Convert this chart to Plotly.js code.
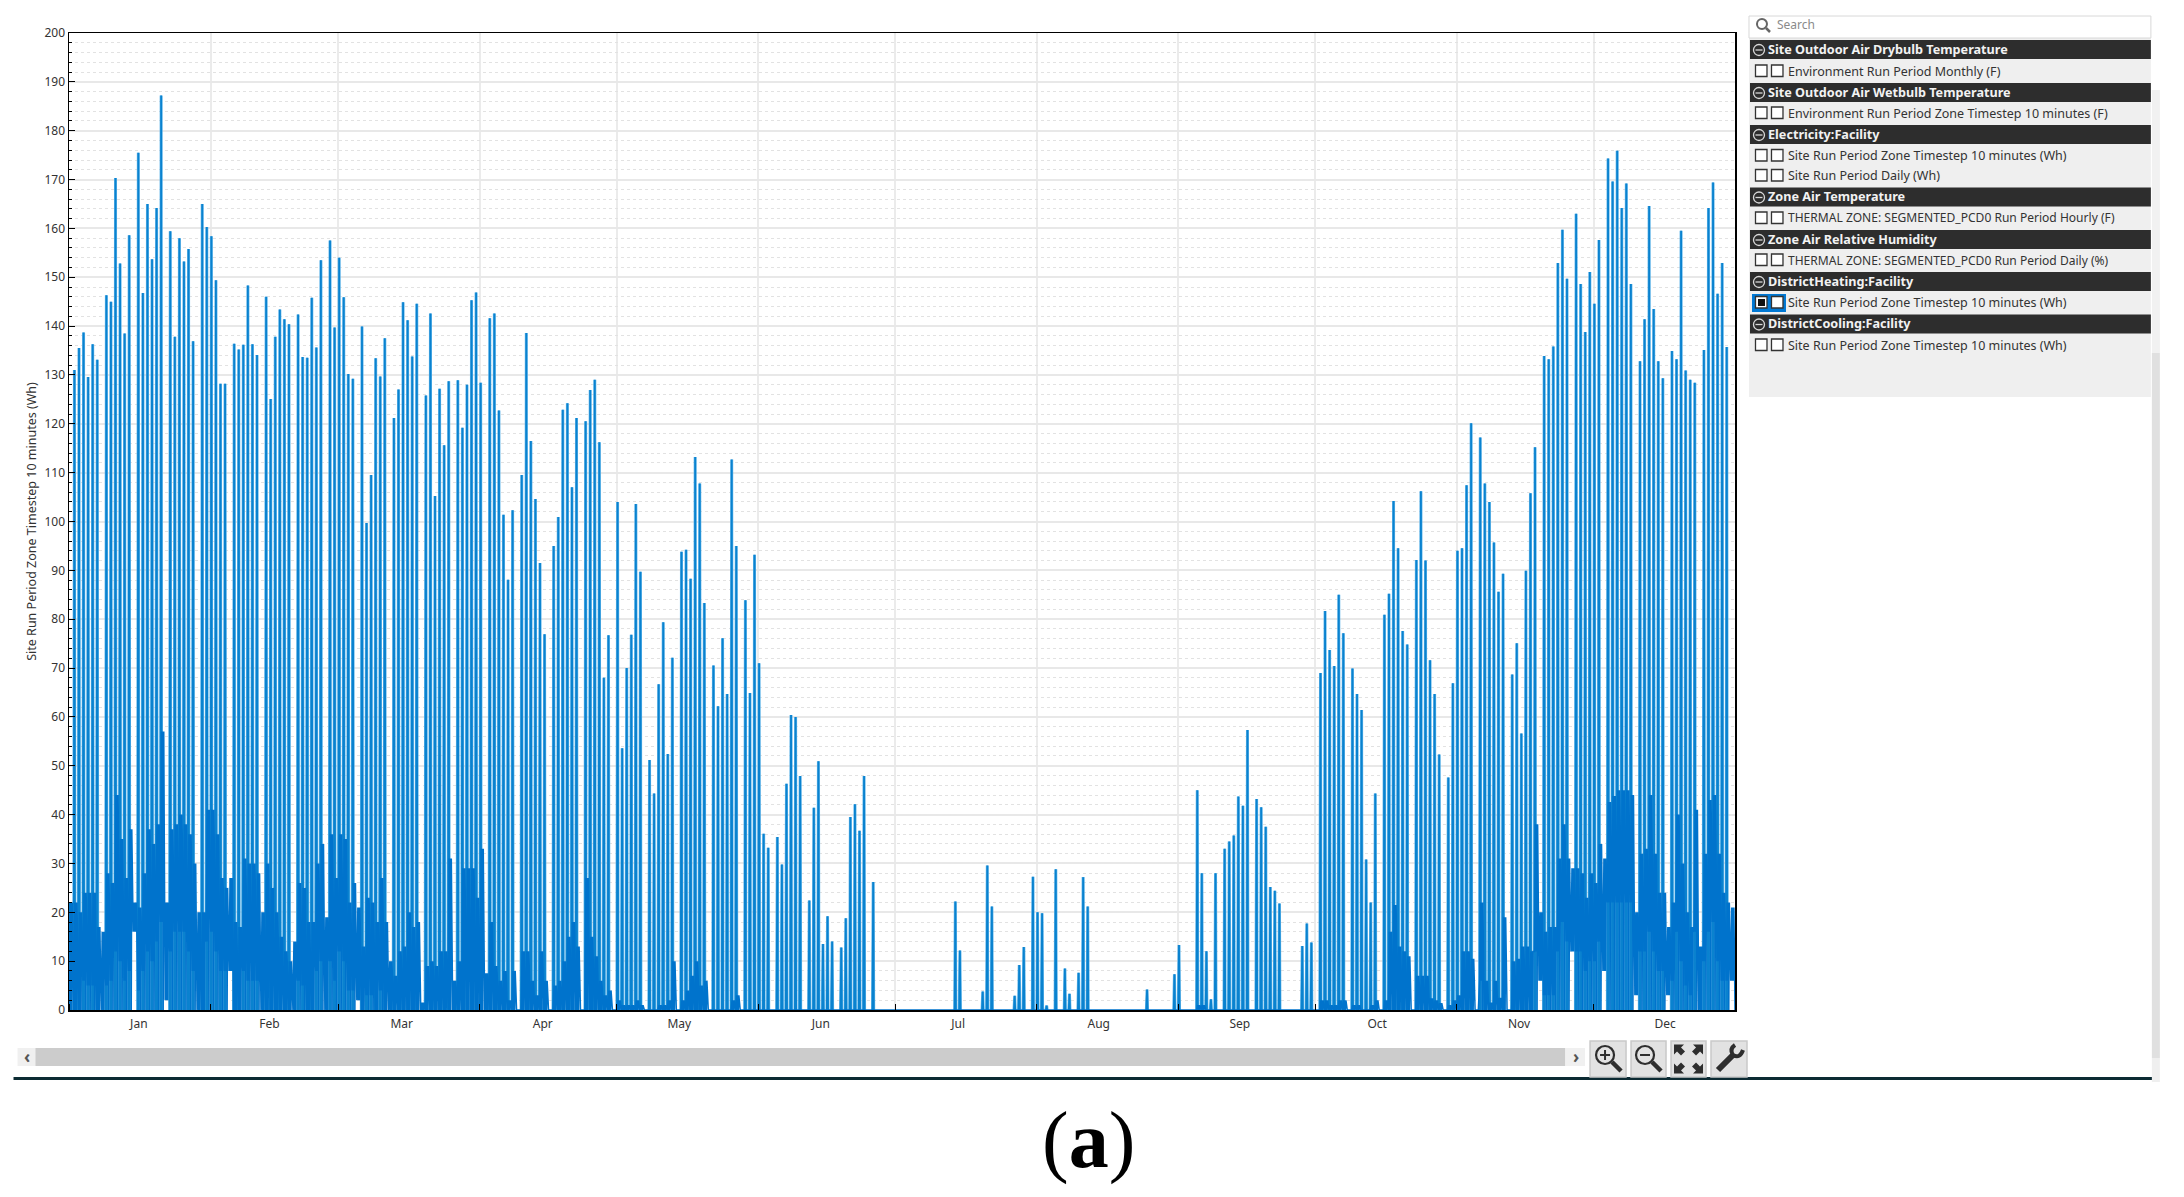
<!DOCTYPE html>
<html>
<head>
<meta charset="utf-8">
<script src="https://cdn.plot.ly/plotly-3.0.1.min.js"></script>
<style>html,body{margin:0;padding:0;background:#fff}#chart{width:2184px;height:1197px}</style>
</head>
<body>
<div id="chart"></div>
<script>
// Daily maximum of the 10-minute series (Wh), read per day of the year (0 = no morning spike)
const dailyPeak = [
22,131,135.5,138.7,129.6,136.3,133.1,
0,146.3,145,170.3,152.8,138.5,158.6,
0,175.5,146.8,165,153.7,164.2,187.2,
0,159.4,137.8,158,153.2,155.8,136.9,
0,165,160.3,158.4,149.4,128.2,128.2,
0,136.4,135.2,136.2,148.3,136.3,134.1,
0,146,125.1,137.8,143.4,141.4,140.4,
0,142.4,133.7,133.5,145.8,135.6,153.5,
0,157.5,139.7,154,145.9,130.2,129.2,
0,139.9,99.7,109.5,133.4,129.7,137.5,
0,121.2,127,144.9,141.2,133.8,144.6,
0,125.8,142.6,105.2,127.2,115.6,128.7,
0,128.9,119.2,128,145.3,146.9,128.4,
0,141.6,142.6,122.7,101.4,88.1,102.3,
0,109.5,138.6,116.5,104.6,91.5,76.9,
0,95,100.9,122.9,124.2,107,121.2,
0,120.5,126.9,129,116.2,68,76.7,
0,104,53.6,70,76.8,103.6,89.7,
0,51.2,44.3,66.7,79.4,52.4,72.1,
0,93.8,94.2,88.3,113.2,107.8,83.3,
0,70.5,62.2,76.1,64.7,112.7,95,
0,83.9,64.9,93.2,71,36.1,33.2,
0,35.4,29.8,46.3,60.4,60,47.9,
0,22.4,41.4,50.9,13.5,19.2,14,
0,12.8,18.8,39.5,42.1,36.7,47.9,
0,26.2,0,0,0,0,0,
0,0,0,0,0,0,0,
0,0,0,0,0,22.2,12.2,
0,0,0,0,3.8,29.6,21.2,
0,0,0,0,2.9,9.2,12.9,
0,27.3,20,19.8,0.9,0,28.8,
0,8.5,3.3,0,7.6,27.2,21.2,
0,0,0,0,0,0,0,
0,0,0,0,0,4.2,0,
0,0,0,0,7.3,13.3,0,
0,0,45,28,12,2.2,28,
0,33,34.5,35.7,43.7,41.8,57.3,
0,43.2,41.5,37.5,25.2,24.4,21.8,
0,0,0,0,13.1,17.7,13.8,
0,69,81.7,73.7,70.4,85,77.1,
0,69.9,64.7,61.4,30.8,22,44.3,
0,80.9,85.2,104.2,94.5,77.6,74.8,
0,92.1,106.2,92,71.6,64.7,52.3,
0,47.6,66.9,94,94.5,107.4,120.1,
0,117.2,107.8,104,95.7,85.6,89.3,
0,68.7,75.1,56.6,89.9,105.8,115.2,
0,133.9,133.2,135.8,152.9,159.7,149.7,
0,163,148.6,138.8,151.1,144.6,157.6,
0,174.3,169.6,175.9,164.2,169.2,148.6,
0,132.8,141.4,164.6,143.5,132.8,129.3,
0,134.9,133.2,159.5,130.9,129,128.4,
0,135.1,164.2,169.4,146.6,152.9,135.7,
0];
// Upper edge of the dense rest-of-day band (Wh)
const bandHigh = [
22,22,20,24,24,24,17,
16,28,26,44,35,27,37,
22,21,28,37,34,38,57,
22,37,38,40,38,36,30,
20,20,41,41,36,27,25,
27,18,17,31,30,30,28,
20,30,25,20,15,12,10,
14,26,25,18,18,30,34,
19,36,27,36,35,22,26,
21,13,23,22,18,27,18,
10,7,12,13,20,17,18,
1.5,9,10,9,12,12,31,
6,10,29,29,29,23,33,
7.5,18,9,6,8,2,8,
0,12,12,6,3,12,6,
0,5,6,10,15,18,13,
0,27,15,11,6,3,4,
0,2,1,1,1,2,1,
0,0,0,1,1,2,10,
0,2,4,7,10,5,6,
0,0,0,0,0,2,3,
0,0,0,0,0,0,0,
0,0,0,0,0,0,0,
0,0,0,0,0,0,0,
0,0,0,0,0,0,0,
0,0,0,0,0,0,0,
0,0,0,0,0,0,0,
0,0,0,0,0,0,0,
0,0,0,0,0,0,0,
0,0,0,0,0,0,0,
0,0,0,0,0,0,0,
0,0,0,0,0,0,0,
0,0,0,0,0,0,0,
0,0,0,0,0,0,0,
0,0,0,0,0,0,0,
0,0,1,1,0,0,0,
0,0,0,0,0,0,0,
0,0,0,0,0,0,0,
0,0,0,0,0,0,0,
0,2,2,1,1,2,2,
0,1,1,0,0,1,2,
0,2,16,21.5,13,12,11,
0,7,7,7,2.4,2,1.4,
0,1,2,3,12,12,10.5,
0,22,6,1.5,6,2.5,19,
0,10,10.5,13,13,12,38,
20,16,17,17,31,38,31,
29,29,28,23,28,26,34,
31,42.6,43.8,45,45,45,44,
20,32,33,44,32,24,24,
17,22,40,30,20,17,41,
13,32,43,44,32,24,22,
21];
// Lower edge of the dense band (Wh)
const bandLow = [
0,0,0,6,5,5,0,
0,5,6,12,10,6,8,
16,4,8,12,10,14,18,
2,12,16,16,16,12,8,
0,0,14,16,12,8,8,
8,0,0,8,6,6,6,
0,0,0,0,0,0,0,
0,6,5,0,0,8,10,
0,10,6,12,10,4,4,
2,0,3,3,0,4,0,
0,0,0,0,0,0,0,
0,0,0,0,0,0,0,
0,0,0,0,0,0,0,
0,0,0,0,0,0,0,
0,0,0,0,0,0,0,
0,0,0,0,0,0,0,
0,0,0,0,0,0,0,
0,0,0,0,0,0,0,
0,0,0,0,0,0,0,
0,0,0,0,0,0,0,
0,0,0,0,0,0,0,
0,0,0,0,0,0,0,
0,0,0,0,0,0,0,
0,0,0,0,0,0,0,
0,0,0,0,0,0,0,
0,0,0,0,0,0,0,
0,0,0,0,0,0,0,
0,0,0,0,0,0,0,
0,0,0,0,0,0,0,
0,0,0,0,0,0,0,
0,0,0,0,0,0,0,
0,0,0,0,0,0,0,
0,0,0,0,0,0,0,
0,0,0,0,0,0,0,
0,0,0,0,0,0,0,
0,0,0,0,0,0,0,
0,0,0,0,0,0,0,
0,0,0,0,0,0,0,
0,0,0,0,0,0,0,
0,0,0,0,0,0,0,
0,0,0,0,0,0,0,
0,0,0,0,0,0,0,
0,0,0,0,0,0,0,
0,0,0,0,0,0,0,
0,6,0,0,0,0,0,
0,0,0,0,0,0,12,
6,3,3,3,12,18,14,
12,12,12,8,10,10,14,
8,22,22,22,22,22,22,
3,12,12,16,12,8,8,
3,6,16,10,5,3,16,
0,10,16,18,10,6,6,
6];
const monthNames = ["Jan","Feb","Mar","Apr","May","Jun","Jul","Aug","Sep","Oct","Nov","Dec"];
const monthLabelDay = [15.3,43.9,72.9,103.8,133.7,164.7,194.8,225.6,256.5,286.6,317.7,349.7];
const monthStarts = ["2021-01-01","2021-02-01","2021-03-01","2021-04-01","2021-05-01","2021-06-01","2021-07-01","2021-08-01","2021-09-01","2021-10-01","2021-11-01","2021-12-01"];
const yearEnd = "2022-01-01";

const groupHeaders = [
  ["Site Outdoor Air Drybulb Temperature", 49.5],
  ["Site Outdoor Air Wetbulb Temperature", 92.5],
  ["Electricity:Facility", 134.5],
  ["Zone Air Temperature", 197],
  ["Zone Air Relative Humidity", 239.5],
  ["DistrictHeating:Facility", 281.5],
  ["DistrictCooling:Facility", 324]
];
const variableRows = [
  ["Environment Run Period Monthly (F)", 71],
  ["Environment Run Period Zone Timestep 10 minutes (F)", 113],
  ["Site Run Period Zone Timestep 10 minutes (Wh)", 155.5],
  ["Site Run Period Daily (Wh)", 175.5],
  ["THERMAL ZONE: SEGMENTED_PCD0 Run Period Hourly (F)", 218],
  ["THERMAL ZONE: SEGMENTED_PCD0 Run Period Daily (%)", 260],
  ["Site Run Period Zone Timestep 10 minutes (Wh)", 302.5],
  ["Site Run Period Zone Timestep 10 minutes (Wh)", 345]
];

// plot rectangle in page pixels
const L = 68.5, R = 1735, T = 33, B = 1010;
const px = x => (x - L) / (R - L);
const py = y => (B - y) / (B - T);
const base = Date.parse(monthStarts[0] + "T00:00:00Z");
const day = f => new Date(base + f * 864e5).toISOString();

const spikeX = [], spikeY = [], bandX = [], bandY = [];
dailyPeak.forEach((p, d) => {
  if (p > 0) {
    spikeX.push(day(d + 0.04), day(d + 0.11), day(d + 0.19), day(d + 0.3), null);
    spikeY.push(0, p, p, 0, null);
  }
  const hi = bandHigh[d], lo = bandLow[d];
  const floorLevel = (p > 0 || lo === 0) ? 0 : lo;   // days with a spike reach the axis between timesteps
  bandX.push(day(d + 0.06), day(d + 0.28), day(d + 0.4), day(d + 0.54), day(d + 0.64), day(d + 0.76));
  bandY.push(lo, hi, lo, hi, floorLevel, hi);
});
bandX.push(day(365)); bandY.push(0);

const shapes = [], annotations = [];
const rect = (x0, y0, x1, y1, fill, line, w) => shapes.push({type:"rect", xref:"paper", yref:"paper",
  x0:px(x0), x1:px(x1), y0:py(y0), y1:py(y1), fillcolor:fill, layer:"above",
  line:{color:line || fill, width:w === undefined ? 0 : w}});
const circle = (cx, cy, r, fill, line, w) => shapes.push({type:"circle", xref:"paper", yref:"paper",
  x0:px(cx-r), x1:px(cx+r), y0:py(cy-r), y1:py(cy+r), fillcolor:fill, layer:"above", line:{color:line, width:w}});
const seg = (x0, y0, x1, y1, color, w) => shapes.push({type:"line", xref:"paper", yref:"paper",
  x0:px(x0), x1:px(x1), y0:py(y0), y1:py(y1), layer:"above", line:{color, width:w}});
const poly = (pts, fill) => shapes.push({type:"path", xref:"paper", yref:"paper", layer:"above", fillcolor:fill,
  line:{color:fill, width:0}, path:"M" + pts.map(p => px(p[0]) + "," + py(p[1])).join("L") + "Z"});
const label = (text, x, y, size, color, extra) => annotations.push(Object.assign({text, xref:"paper", yref:"paper",
  x:px(x), y:py(y), xanchor:"left", yanchor:"middle", showarrow:false, align:"left",
  font:{family:"Noto Sans, sans-serif", size, color}}, extra || {}));

// legend panel
rect(1749, 38, 2151, 397, "#efefef");
rect(1749, 16, 2151, 38, "#ffffff", "#d8d8d8", 1);
circle(1762, 24, 5, "rgba(0,0,0,0)", "#666666", 2);
seg(1766, 28, 1770, 32, "#666666", 2.5);
label("Search", 1775, 25, 12, "#8a8a8a");
groupHeaders.forEach(([t, y]) => {
  rect(1750, y - 9.5, 2151, y + 9.5, "#2d2d2d");
  circle(1759, y + 0.5, 5.5, "rgba(0,0,0,0)", "#d8d8d8", 1.3);
  seg(1755.5, y + 0.5, 1762.5, y + 0.5, "#d8d8d8", 1.3);
  label("<b>" + t + "</b>", 1766.5, y - 0.8, 12.65, "#f2f2f2");
});
rect(1752, 294, 1786, 312, "#0078d4");
variableRows.forEach(([t, y]) => {
  rect(1755.5, y - 6, 1767, y + 5.5, "#ffffff", "#333333", 1.3);
  rect(1771.5, y - 6, 1783, y + 5.5, "#ffffff", "#333333", 1.3);
  label(t, 1786, y, t.startsWith("THERMAL") ? 12.05 : 12.5, "#333333");
});
rect(1758, 299, 1765, 306, "#111111");

// right scroll bar
rect(2152, 90, 2160, 353, "#f1f1f1");
rect(2152, 353, 2160, 1058, "#e0e0e0");
rect(2152, 1058, 2160, 1082, "#efefef");

// horizontal scroll bar and rule
rect(17, 1048, 1585, 1066, "#f0f0f0");
rect(35, 1048, 1565, 1066, "#cccccc");
label("<b>\u2039</b>", 21, 1056, 17, "#555555");
label("<b>\u203A</b>", 1571, 1056, 17, "#555555");
rect(13, 1077, 2152, 1080, "#0c2b33");

// tool buttons
[[1590,1626],[1631,1666],[1671,1706],[1711,1747]].forEach(([a, b]) => rect(a, 1041, b, 1077, "#e2e2e2", "#c9c9c9", 1.5));
const ink = "#2e2e2e";
circle(1605, 1055, 9, "rgba(0,0,0,0)", ink, 2.2);
seg(1600, 1055, 1610, 1055, ink, 2);
seg(1605, 1050, 1605, 1060, ink, 2);
seg(1612, 1062, 1621, 1071, ink, 4.5);
circle(1645, 1055, 9, "rgba(0,0,0,0)", ink, 2.2);
seg(1640, 1055, 1650, 1055, ink, 2);
seg(1652, 1062, 1661, 1071, ink, 4.5);
const arrow = [[0,0],[10,0],[7,3],[11,7],[7,11],[3,7],[0,10]];
const cx = 1688.5, cy = 1059, o = 14.5;
[[-1,-1],[1,-1],[-1,1],[1,1]].forEach(([sx, sy]) =>
  poly(arrow.map(p => [cx + sx * (o - p[0]), cy + sy * (o - p[1])]), ink));
seg(1718, 1070, 1733, 1055, ink, 6);
shapes.push({type:"path", xref:"paper", yref:"paper", layer:"above", fillcolor:"rgba(0,0,0,0)",
  line:{color:ink, width:4},
  path:`M${px(1735)},${py(1045)}Q${px(1729)},${py(1049)},${px(1733)},${py(1055)}Q${px(1740)},${py(1059)},${px(1743)},${py(1050)}`});

// caption
annotations.push({text:"(<b>a</b>)", xref:"paper", yref:"paper", x:px(1088), y:py(1140), xanchor:"center", yanchor:"middle",
  showarrow:false, font:{family:"Liberation Serif, serif", size:80, color:"#000000"}});

const axisFont = {family:"Noto Sans, sans-serif", size:12, color:"#333333"};
const traces = [
  {x:spikeX, y:spikeY, mode:"lines", hoverinfo:"skip", connectgaps:false, line:{color:"#62b6ea", width:3}},
  {x:spikeX, y:spikeY, mode:"lines", hoverinfo:"skip", connectgaps:false, line:{color:"#0a82cf", width:1.8}},
  {x:bandX, y:bandY, mode:"lines", hoverinfo:"skip", line:{color:"#0073cc", width:1.5}}
];
const layout = {
  width:2184, height:1197, showlegend:false, paper_bgcolor:"#ffffff", plot_bgcolor:"#ffffff",
  margin:{l:L, r:2184-R, t:T, b:1197-B, pad:0},
  xaxis:{type:"date", range:[monthStarts[0], yearEnd], tickmode:"array",
    tickvals:monthLabelDay.map(day), ticktext:monthNames, ticks:"", ticklabelstandoff:2, tickfont:axisFont, showgrid:false,
    minor:{tickmode:"array", tickvals:monthStarts, ticks:"inside", ticklen:6, tickcolor:"#000000", tickwidth:1,
      showgrid:true, gridcolor:"#ebebeb", gridwidth:2},
    showline:true, linecolor:"#000000", linewidth:1.5, mirror:true, zeroline:false, automargin:false},
  yaxis:{range:[0,200], dtick:10, tick0:0, ticks:"inside", ticklen:6, tickcolor:"#000000", tickwidth:1, tickfont:axisFont,
    showgrid:true, gridcolor:"#e8e8e8", gridwidth:2, showline:true, linecolor:"#000000", linewidth:1.5, mirror:true,
    zeroline:false, automargin:false,
    minor:{dtick:2, showgrid:true, gridcolor:"#e2e2e2", griddash:"dot", gridwidth:1, ticks:"inside", ticklen:3, tickcolor:"#000000"},
    title:{text:"Site Run Period Zone Timestep 10 minutes (Wh)", font:{family:"Noto Sans, sans-serif", size:12.5, color:"#333333"}, standoff:5}},
  shapes, annotations
};
Plotly.newPlot("chart", traces, layout, {displayModeBar:false, staticPlot:true});
</script>
</body>
</html>
